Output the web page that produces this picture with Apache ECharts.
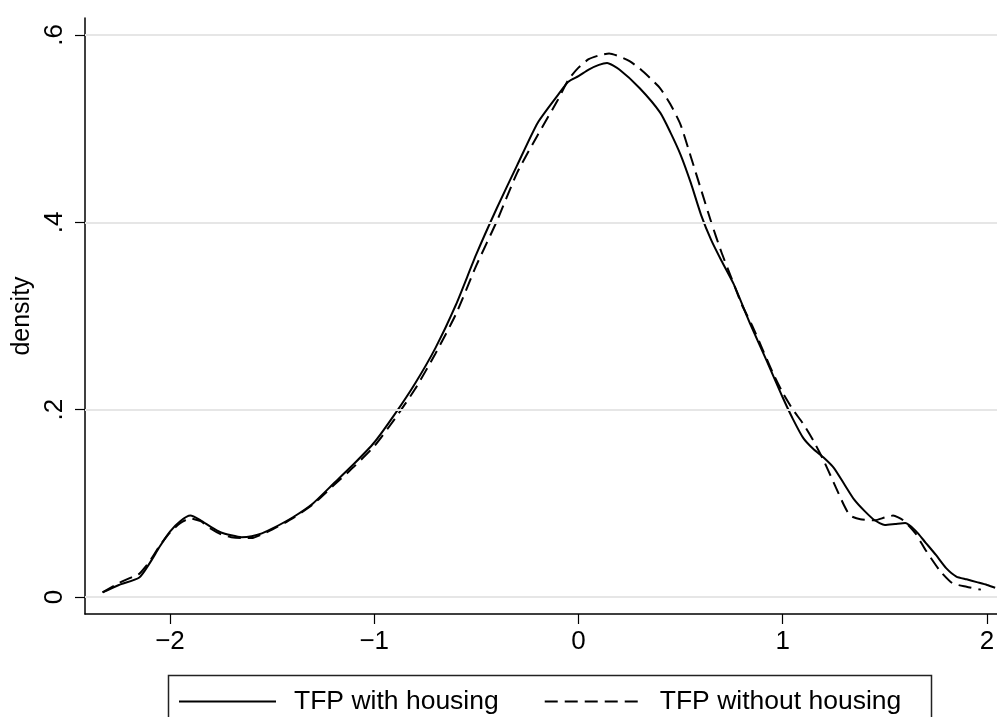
<!DOCTYPE html>
<html>
<head>
<meta charset="utf-8">
<script src="https://cdn.jsdelivr.net/npm/echarts@6/dist/echarts.min.js"></script>
<style>
  html, body { margin: 0; padding: 0; background: #fff; }
  #chart { width: 997px; height: 717px; }
</style>
</head>
<body>
<div id="chart"></div>
<script>
// Kernel density estimates of TFP, with and without housing
const withHousingX = [-2.33, -2.25, -2.15, -2.10, -2.05, -2.00, -1.95, -1.90, -1.85, -1.80,
  -1.75, -1.70, -1.65, -1.60, -1.55, -1.50, -1.40, -1.30, -1.20, -1.10,
  -1.00, -0.90, -0.80, -0.70, -0.60, -0.50, -0.40, -0.30, -0.20, -0.10,
  -0.05, 0.00, 0.05, 0.10, 0.14, 0.20, 0.30, 0.40, 0.45, 0.50,
  0.55, 0.60, 0.65, 0.70, 0.76, 0.84, 0.92, 1.00, 1.05, 1.10,
  1.15, 1.20, 1.25, 1.30, 1.35, 1.40, 1.45, 1.50, 1.55, 1.60,
  1.65, 1.70, 1.75, 1.80, 1.85, 1.90, 1.95, 2.00, 2.04];
const withHousingY = [0.005, 0.013, 0.021, 0.036, 0.054, 0.070, 0.081, 0.087, 0.082, 0.075,
  0.069, 0.066, 0.064, 0.065, 0.068, 0.073, 0.085, 0.100, 0.121, 0.142,
  0.165, 0.195, 0.228, 0.266, 0.312, 0.366, 0.415, 0.461, 0.506, 0.536,
  0.550, 0.556, 0.563, 0.568, 0.570, 0.563, 0.543, 0.517, 0.496, 0.472,
  0.442, 0.408, 0.381, 0.359, 0.334, 0.292, 0.253, 0.213, 0.190, 0.170,
  0.158, 0.149, 0.138, 0.121, 0.104, 0.092, 0.082, 0.077, 0.078, 0.079,
  0.071, 0.058, 0.045, 0.031, 0.022, 0.019, 0.016, 0.013, 0.010];

const withoutHousingX = [-2.33, -2.25, -2.18, -2.15, -2.10, -2.05, -2.00, -1.95, -1.90, -1.85,
  -1.80, -1.75, -1.70, -1.65, -1.60, -1.55, -1.50, -1.40, -1.30, -1.20,
  -1.10, -1.00, -0.90, -0.80, -0.70, -0.60, -0.50, -0.40, -0.30, -0.20,
  -0.10, -0.05, 0.00, 0.05, 0.10, 0.15, 0.20, 0.25, 0.30, 0.35,
  0.40, 0.45, 0.50, 0.55, 0.60, 0.65, 0.70, 0.75, 0.80, 0.85,
  0.90, 0.95, 1.00, 1.05, 1.10, 1.15, 1.20, 1.25, 1.30, 1.33,
  1.38, 1.45, 1.50, 1.54, 1.59, 1.65, 1.70, 1.77, 1.83, 1.90, 1.97];
const withoutHousingY = [0.005, 0.015, 0.022, 0.025, 0.038, 0.055, 0.069, 0.079, 0.084, 0.081,
  0.073, 0.067, 0.064, 0.063, 0.063, 0.067, 0.072, 0.084, 0.099, 0.119,
  0.139, 0.161, 0.190, 0.222, 0.260, 0.302, 0.354, 0.401, 0.453, 0.493,
  0.531, 0.552, 0.565, 0.574, 0.578, 0.580, 0.577, 0.572, 0.564, 0.554,
  0.543, 0.526, 0.504, 0.470, 0.435, 0.400, 0.368, 0.340, 0.312, 0.290,
  0.265, 0.240, 0.218, 0.200, 0.185, 0.167, 0.146, 0.122, 0.098, 0.087,
  0.083, 0.082, 0.085, 0.087, 0.082, 0.068, 0.050, 0.028, 0.015, 0.011, 0.008];

const xTicks = [-2, -1, 0, 1, 2];
const yTicks = [0, 0.2, 0.4, 0.6];
const seriesNames = ['TFP with housing', 'TFP without housing'];

const pairs = (xs, ys) => xs.map((x, i) => [x, ys[i]]);
const FONT = '"Liberation Sans", Arial, Helvetica, sans-serif';
const DASH = [13, 7];

const chart = echarts.init(document.getElementById('chart'), null, { renderer: 'canvas' });
chart.setOption({
  animation: false,
  backgroundColor: '#fff',
  textStyle: { fontFamily: FONT, color: '#000' },
  grid: { left: 85, right: 0, top: 18, bottom: 103, containLabel: false, outerBoundsMode: 'none' },
  xAxis: {
    type: 'value',
    min: -2.416,
    max: 2.049,
    axisLine: { show: true, onZero: false, lineStyle: { color: '#000', width: 1.5 } },
    axisTick: { show: true, length: 10, customValues: xTicks, lineStyle: { color: '#000', width: 1.2 } },
    axisLabel: {
      customValues: xTicks,
      margin: 15,
      fontSize: 26,
      fontFamily: FONT,
      color: '#000',
      formatter: v => String(v).replace('-', '\u2212')
    },
    splitLine: { show: false }
  },
  yAxis: {
    type: 'value',
    min: -0.018,
    max: 0.618,
    name: 'density',
    nameLocation: 'middle',
    nameGap: 50,
    nameMoveOverlap: false,
    nameTextStyle: { fontSize: 25, fontFamily: FONT, color: '#000' },
    axisLine: { show: true, onZero: false, lineStyle: { color: '#000', width: 1.5 } },
    axisTick: { show: true, length: 10, customValues: yTicks, lineStyle: { color: '#000', width: 1.2 } },
    axisLabel: {
      customValues: yTicks,
      rotate: 90,
      margin: 17,
      fontSize: 26,
      fontFamily: FONT,
      color: '#000',
      formatter: v => (v === 0 ? '0' : String(v).replace(/^0/, ''))
    },
    splitLine: { show: false }
  },
  legend: {
    data: seriesNames,
    left: 178,
    top: 688,
    padding: 0,
    itemWidth: 97,
    itemHeight: 22,
    itemGap: 45,
    itemStyle: { opacity: 0 },
    textStyle: { fontSize: 26.5, fontFamily: FONT, color: '#000', padding: [0, 0, 0, 13] }
  },
  graphic: [{
    type: 'rect',
    left: 166,
    top: 673,
    shape: { width: 763, height: 80 },
    style: { fill: 'none', stroke: '#222', lineWidth: 1.5 },
    silent: true
  }],
  series: [
    {
      name: 'gridlines',
      type: 'line',
      data: [],
      z: 1,
      silent: true,
      markLine: {
        silent: true,
        symbol: 'none',
        label: { show: false },
        lineStyle: { color: '#e6e6e6', width: 2, type: 'solid' },
        data: yTicks.map(v => ({ yAxis: v }))
      }
    },
    {
      name: seriesNames[0],
      type: 'line',
      data: pairs(withHousingX, withHousingY),
      showSymbol: false,
      symbol: 'none',
      smooth: 0.2,
      z: 3,
      color: '#000',
      lineStyle: { color: '#000', width: 2, type: 'solid' }
    },
    {
      name: seriesNames[1],
      type: 'line',
      data: pairs(withoutHousingX, withoutHousingY),
      showSymbol: false,
      symbol: 'none',
      smooth: 0.2,
      z: 3,
      color: '#000',
      lineStyle: { color: '#000', width: 2, type: DASH }
    }
  ]
});
</script>
</body>
</html>
